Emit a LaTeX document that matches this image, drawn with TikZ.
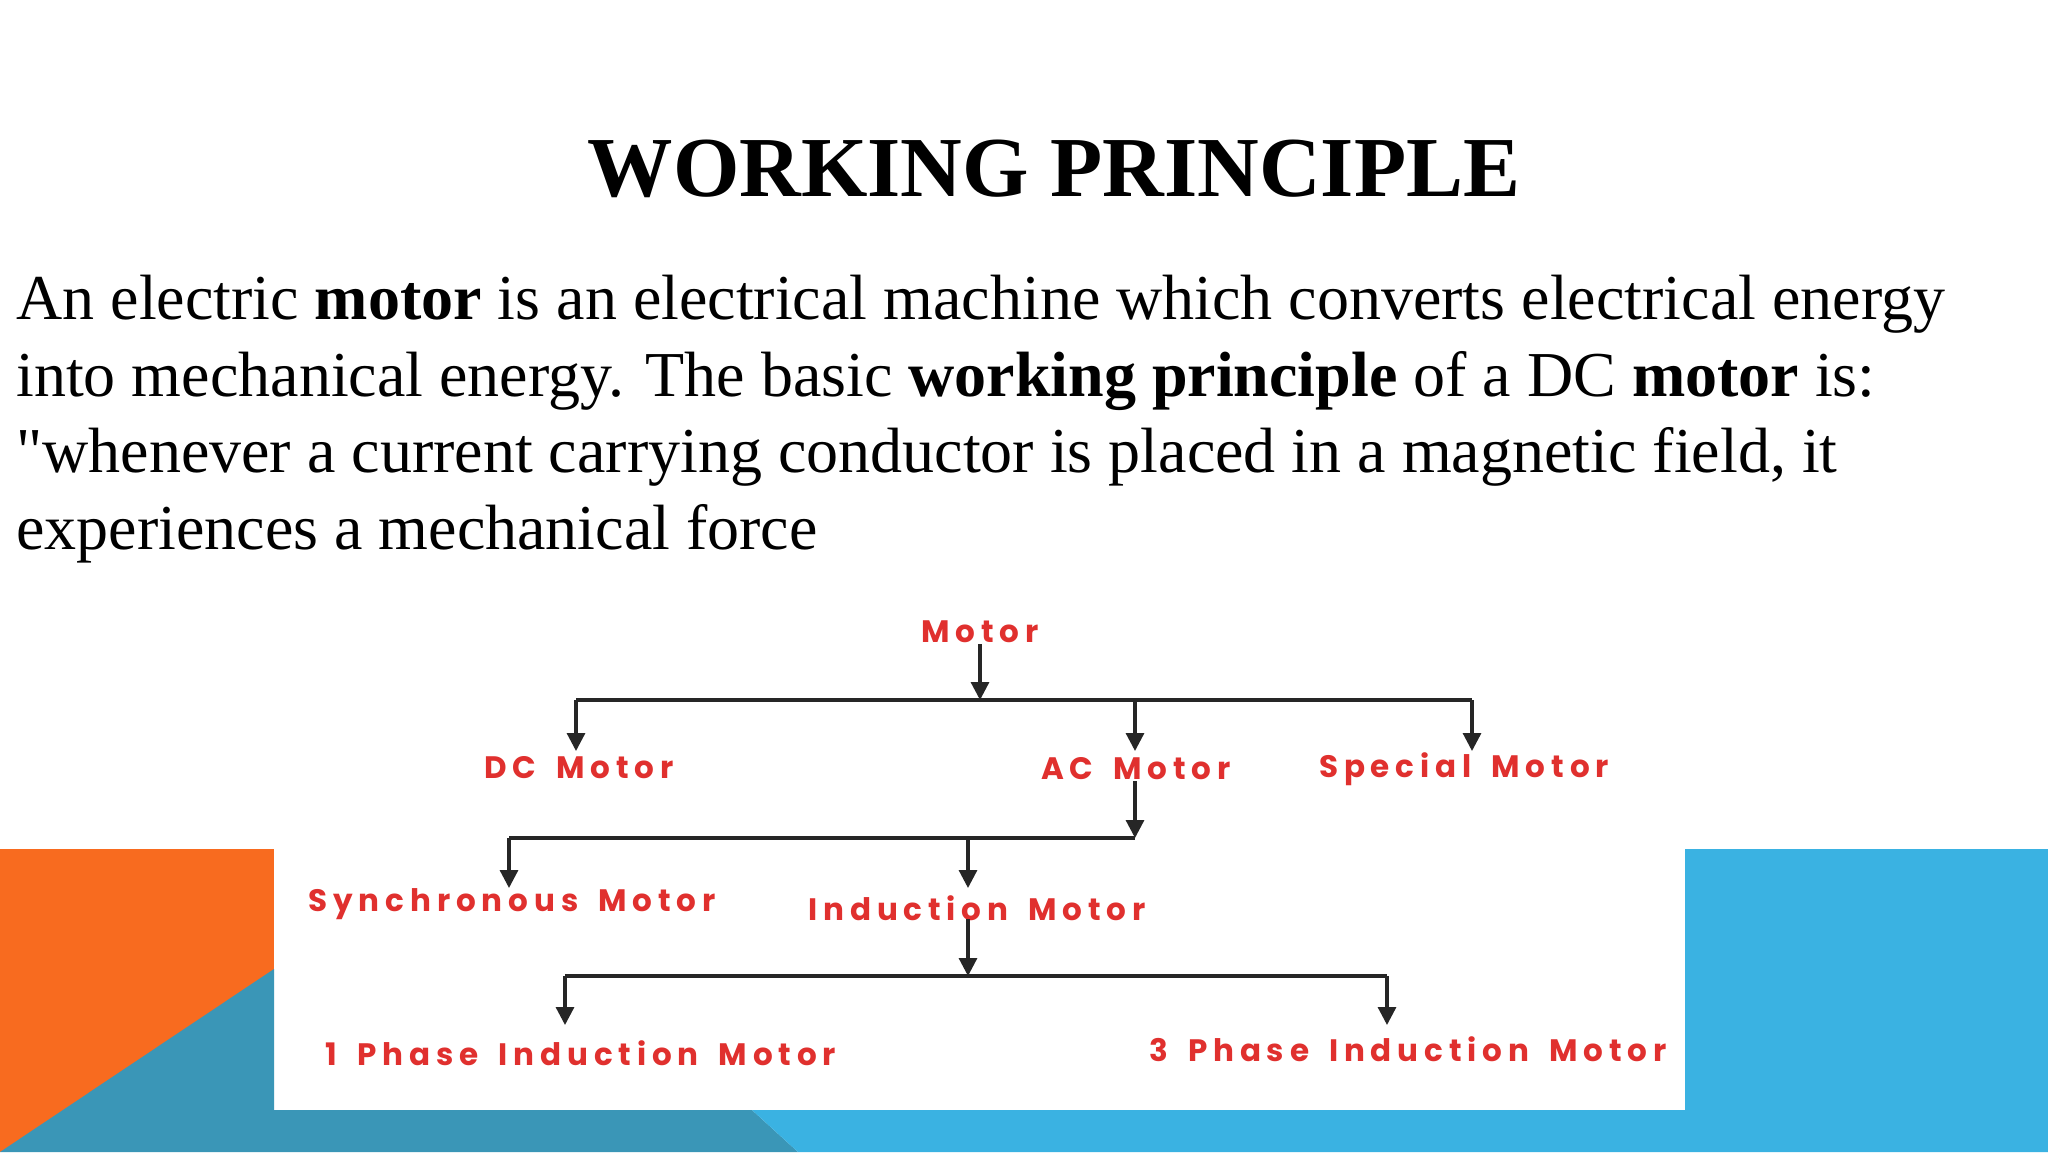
\documentclass[tikz,border=0pt]{standalone}
\usepackage{fontspec}
\setmainfont{Liberation Serif}[Ligatures=TeXOff]
\newfontfamily\diagfont{Poppins}[LetterSpace=19,WordSpace=1.6]
\usetikzlibrary{arrows.meta}
\definecolor{orng}{HTML}{F86B1F}
\definecolor{teal}{HTML}{3A96B7}
\definecolor{lblue}{HTML}{3AB2E2}
\definecolor{redt}{HTML}{E0302E}
\begin{document}
\begin{tikzpicture}[x=0.5pt,y=-0.5pt,
  lbl/.style={font=\diagfont\bfseries\fontsize{15.5}{17}\selectfont, text=redt, inner sep=0pt},
  conn/.style={line width=1.6pt, black!85},
  arr/.style={conn, -{Triangle[length=9pt,width=9pt]}}]
\useasboundingbox (0,0) rectangle (2048,1152);
\fill[white] (0,0) rectangle (2048,1152);
% decorations
\fill[orng] (0,849) rectangle (274,1152);
\fill[teal] (0,1152) -- (274,969) -- (274,1110) -- (752,1110) -- (798,1152) -- cycle;
\fill[lblue] (752,1110) -- (1685,1110) -- (1685,849) -- (2048,849) -- (2048,1152) -- (798,1152) -- cycle;
% title and text
\node[font=\fontsize{42.7}{50}\selectfont\bfseries, anchor=base] (title) at (1054,196) {WORKING PRINCIPLE};
\node[anchor=base west, inner sep=0pt, align=left, font=\fontsize{32}{38.2}\selectfont] (body) at (16,549)
 {An electric \textbf{motor} is an electrical machine which converts electrical energy\\
  into mechanical energy. The basic \textbf{working principle} of a DC \textbf{motor} is:\\
  "whenever a current carrying conductor is placed in a magnetic field, it\\
  experiences a mechanical force};
% diagram nodes
\node[lbl] (motor) at (980,632) {Motor};
\node[lbl] (dc) at (579,768) {DC Motor};
\node[lbl] (ac) at (1136,769) {AC Motor};
\node[lbl] (sp) at (1464,769) {Special Motor};
\node[lbl] (syn) at (512,904) {Synchronous Motor};
\node[lbl] (ind) at (977,908) {Induction Motor};
\node[lbl] (p1) at (581,1053) {1 Phase Induction Motor};
\node[lbl] (p3) at (1408,1049) {3 Phase Induction Motor};
\coordinate (j1) at (980,700);
\coordinate (j2) at (1135,838);
\coordinate (j3) at (968,976);
% connectors
\draw[arr] (980,644) -- (j1);
\draw[conn] (576,700) -- (1472,700);
\draw[arr] (576,700) -- (576,751);
\draw[arr] (1135,700) -- (1135,751);
\draw[arr] (1472,700) -- (1472,751);
\draw[arr] (1135,781) -- (j2);
\draw[conn] (509,838) -- (j2);
\draw[arr] (509,838) -- (509,888);
\draw[arr] (968,838) -- (968,888);
\draw[arr] (968,919) -- (j3);
\draw[conn] (565,976) -- (1387,976);
\draw[arr] (565,976) -- (565,1025);
\draw[arr] (1387,976) -- (1387,1025);
\end{tikzpicture}
\end{document}
